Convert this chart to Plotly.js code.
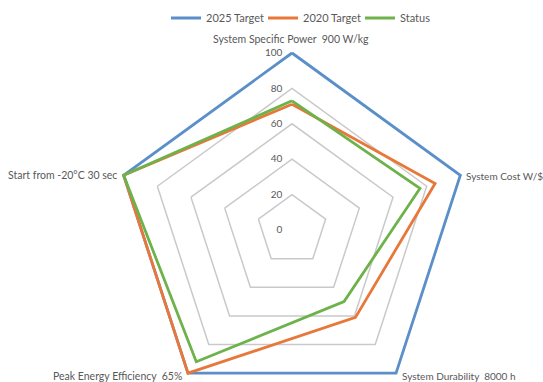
<!DOCTYPE html>
<html>
<head>
<meta charset="utf-8">
<script src="https://cdn.plot.ly/plotly-3.0.1.min.js"></script>
<style>
  html, body { margin: 0; padding: 0; overflow: hidden; background: #fff; }
  #chart { width: 543px; height: 430px; }
</style>
</head>
<body>
<div id="chart"></div>
<script>
// Radar axes, clockwise from the top
const categories = [
  'System Specific Power  900 W/kg',
  'System Cost W/$',
  'System Durability  8000 h',
  'Peak Energy Efficiency  65%',
  'Start from -20\u00B0C 30 sec'
];

// Progress per axis, percent of the 2025 target
const target2025 = [100, 100, 100, 100, 100];
const target2020 = [71, 85, 61, 100, 100];
const status = [73, 76, 50, 92, 100];

const radialTicks = [0, 20, 40, 60, 80, 100];

const seriesNames = ['2025 Target', '2020 Target', 'Status'];
const seriesColors = ['#5B8FC9', '#E8773A', '#6DB24A'];
const seriesValues = [target2025, target2020, status];

// close each polygon by repeating its first vertex
const traces = seriesValues.map((vals, i) => ({
  type: 'scatterpolar',
  mode: 'lines',
  name: seriesNames[i],
  r: vals.concat(vals[0]),
  theta: categories.concat(categories[0]),
  line: { color: seriesColors[i], width: 2.8 },
  hoverinfo: 'skip'
}));

const W = 543, H = 430;
const cx = 292, cy = 230, R = 177;
// a little headroom past 100 so the outer outline is not clipped by the frame
const rMax = 102;
const Rframe = R * rMax / 100;

// category names sit just outside each outer vertex
const px = x => x / W;
const py = y => 1 - y / H;
const labelPlacement = [
  { x: 291, y: 39, xanchor: 'center', size: 10.5 },
  { x: 464, y: 176, xanchor: 'left', size: 10 },
  { x: 400, y: 376, xanchor: 'left', size: 10 },
  { x: 184, y: 376, xanchor: 'right', size: 10.5 },
  { x: 119, y: 175, xanchor: 'right', size: 10.5 }
];
const annotations = categories.map((c, i) => ({
  text: c,
  xref: 'paper', yref: 'paper',
  x: px(labelPlacement[i].x), y: py(labelPlacement[i].y),
  xanchor: labelPlacement[i].xanchor, yanchor: 'middle',
  showarrow: false,
  font: { size: labelPlacement[i].size, color: '#595959' }
}));

// pad the value labels so they sit left of the vertical axis
const pad = '\u00A0'.repeat(3);

const layout = {
  width: W,
  height: H,
  margin: { l: 0, r: 0, t: 0, b: 0, autoexpand: false },
  paper_bgcolor: '#ffffff',
  font: { family: 'Lato, "Open Sans", sans-serif', color: '#595959', size: 10.5 },
  showlegend: true,
  legend: {
    orientation: 'h',
    x: px(166), xanchor: 'left',
    y: py(18), yanchor: 'middle',
    font: { size: 11, color: '#595959' },
    entrywidth: 52,
    entrywidthmode: 'pixels',
    tracegroupgap: 0
  },
  annotations: annotations,
  polar: {
    domain: {
      x: [(cx - Rframe) / W, (cx + Rframe) / W],
      y: [(H - (cy + Rframe)) / H, (H - (cy - Rframe)) / H]
    },
    bgcolor: 'rgba(0,0,0,0)',
    gridshape: 'linear',
    radialaxis: {
      range: [0, rMax],
      tickvals: radialTicks,
      ticktext: radialTicks.map(v => String(v) + pad),
      angle: 90,
      tickangle: 90,
      side: 'counterclockwise',
      showline: false,
      ticks: '',
      tickfont: { size: 10, color: '#595959' },
      gridcolor: '#c9c9c9',
      gridwidth: 1.5
    },
    angularaxis: {
      direction: 'clockwise',
      rotation: 90,
      showgrid: false,
      showline: false,
      showticklabels: false,
      ticks: ''
    }
  }
};

Plotly.newPlot('chart', traces, layout, { displayModeBar: false, staticPlot: true });
</script>
</body>
</html>
